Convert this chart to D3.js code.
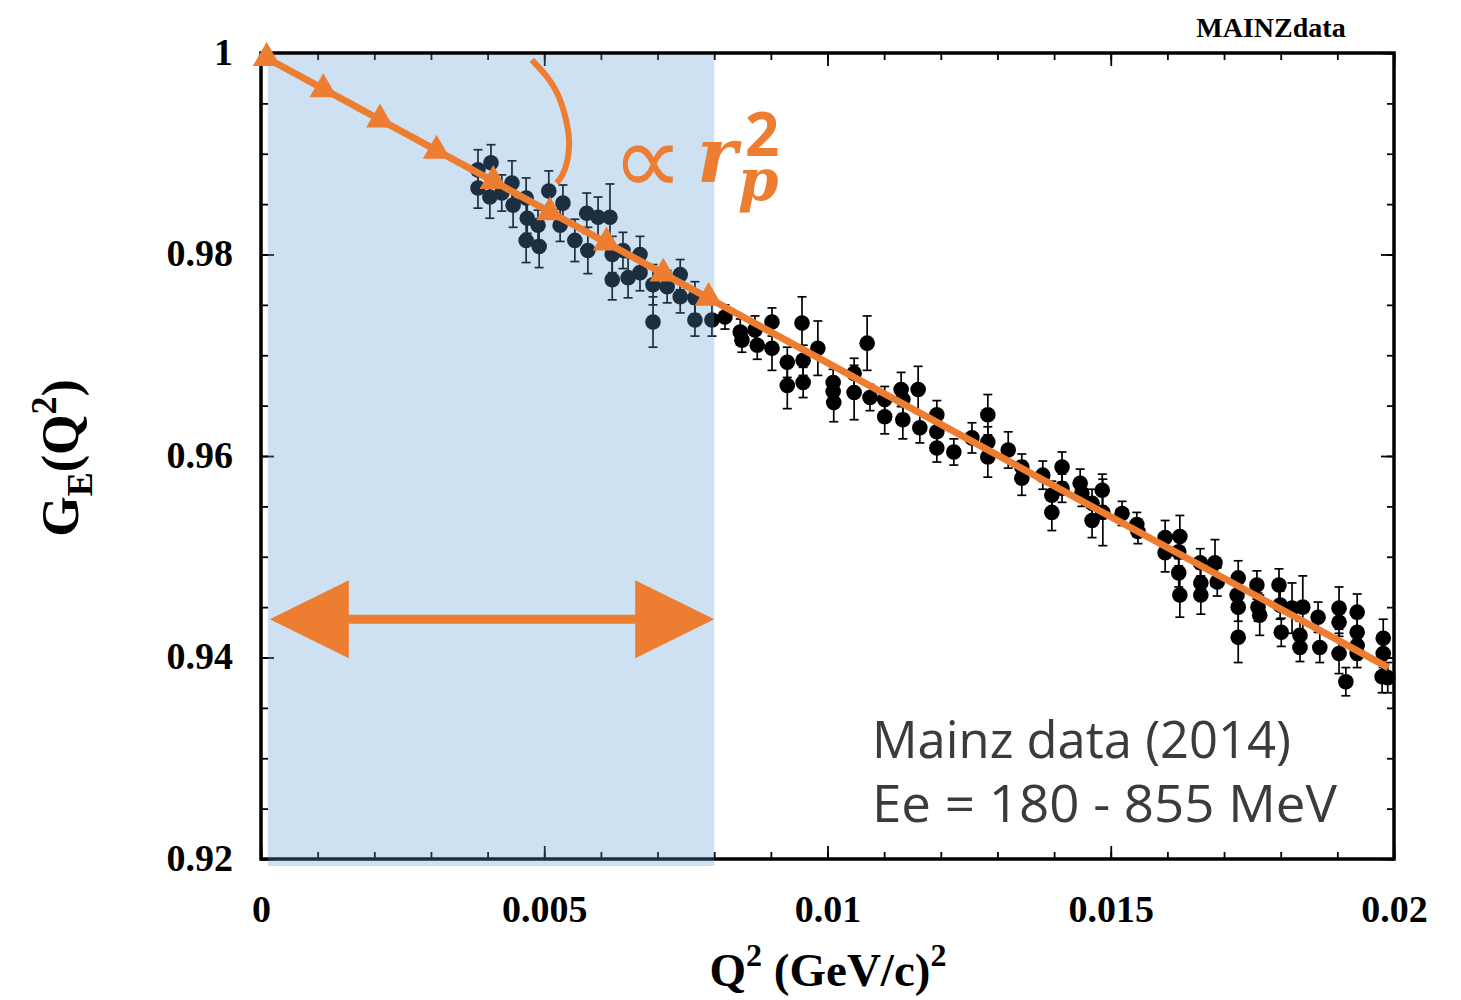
<!DOCTYPE html>
<html>
<head>
<meta charset="utf-8">
<script src="https://cdn.jsdelivr.net/npm/d3@7"></script>
<style>
  body { margin: 0; background: #fff; }
  svg { display: block; }
</style>
</head>
<body>
<svg id="chart" width="1461" height="1000"></svg>
<script>
// Mainz electron-proton scattering: electric form factor G_E vs Q^2 (GeV/c)^2
const q2 = [
  0.00383, 0.00383, 0.00406, 0.00404, 0.00425, 0.00443, 0.00445, 0.00468, 0.00470, 0.00468,
  0.00489, 0.00491, 0.00508, 0.00533, 0.00528, 0.00554, 0.00575, 0.00577, 0.00595, 0.00616,
  0.00620, 0.00620, 0.00639, 0.00648, 0.00669, 0.00669, 0.00692, 0.00692, 0.00717, 0.00740,
  0.00740, 0.00766, 0.00766, 0.00796, 0.00819, 0.00846, 0.00849, 0.00872, 0.00876, 0.00902,
  0.00902, 0.00929, 0.00929, 0.00955, 0.00957, 0.00957, 0.00983, 0.01010, 0.01010, 0.01011,
  0.01047, 0.01047, 0.01070, 0.01075, 0.01101, 0.01101, 0.01130, 0.01133, 0.01133, 0.01160,
  0.01163, 0.01193, 0.01193, 0.01193, 0.01223, 0.01255, 0.01283, 0.01283, 0.01283, 0.01319,
  0.01343, 0.01343, 0.01380, 0.01396, 0.01396, 0.01414, 0.01414, 0.01446, 0.01449, 0.01467,
  0.01467, 0.01485, 0.01486, 0.01520, 0.01546, 0.01548, 0.01596, 0.01596, 0.01622, 0.01620,
  0.01620, 0.01622, 0.01658, 0.01659, 0.01659, 0.01684, 0.01688, 0.01725, 0.01723, 0.01725,
  0.01725, 0.01758, 0.01760, 0.01763, 0.01797, 0.01799, 0.01801, 0.01820, 0.01839, 0.01834,
  0.01834, 0.01866, 0.01869, 0.01903, 0.01903, 0.01903, 0.01915, 0.01935, 0.01935, 0.01935,
  0.01935, 0.01981, 0.01981, 0.01979, 0.01989
];
const ge = [
  0.9884, 0.9866, 0.9891, 0.9857, 0.9861, 0.9871, 0.9849, 0.9856, 0.9836, 0.9814,
  0.9829, 0.9808, 0.9863, 0.9851, 0.9829, 0.9814, 0.9841, 0.9804, 0.9837, 0.9837,
  0.9800, 0.9775, 0.9804, 0.9777, 0.9800, 0.9782, 0.9770, 0.9733, 0.9768, 0.9780,
  0.9758, 0.9757, 0.9735, 0.9735, 0.9738, 0.9723, 0.9715, 0.9725, 0.9710, 0.9733,
  0.9707, 0.9693, 0.9670, 0.9732, 0.9695, 0.9673, 0.9707, 0.9673, 0.9664, 0.9653,
  0.9682, 0.9663, 0.9712, 0.9658, 0.9656, 0.9639, 0.9666, 0.9656, 0.9636, 0.9666,
  0.9628, 0.9641, 0.9624, 0.9608, 0.9604, 0.9618, 0.9641, 0.9614, 0.9599, 0.9606,
  0.9589, 0.9578, 0.9581, 0.9561, 0.9544, 0.9589, 0.9568, 0.9573, 0.9563, 0.9553,
  0.9536, 0.9566, 0.9544, 0.9543, 0.9532, 0.9525, 0.9519, 0.9504, 0.9520, 0.9505,
  0.9484, 0.9462, 0.9494, 0.9474, 0.9462, 0.9494, 0.9475, 0.9479, 0.9462, 0.9450,
  0.9420, 0.9472, 0.9450, 0.9442, 0.9472, 0.9452, 0.9425, 0.9449, 0.9450, 0.9422,
  0.9410, 0.9440, 0.9410, 0.9449, 0.9435, 0.9404, 0.9376, 0.9445, 0.9425, 0.9412,
  0.9404, 0.9419, 0.9404, 0.9381, 0.9380
];
const geErr = [
  0.0020, 0.0020, 0.0018, 0.0021, 0.0018, 0.0022, 0.0022, 0.0020, 0.0015, 0.0022,
  0.0015, 0.0021, 0.0020, 0.0018, 0.0016, 0.0021, 0.0020, 0.0023, 0.0020, 0.0033,
  0.0018, 0.0020, 0.0018, 0.0020, 0.0018, 0.0018, 0.0020, 0.0025, 0.0016, 0.0015,
  0.0016, 0.0016, 0.0016, 0.0016, 0.0012, 0.0013, 0.0012, 0.0014, 0.0014, 0.0014,
  0.0022, 0.0015, 0.0023, 0.0026, 0.0015, 0.0015, 0.0027, 0.0013, 0.0013, 0.0019,
  0.0015, 0.0027, 0.0027, 0.0013, 0.0013, 0.0017, 0.0017, 0.0014, 0.0019, 0.0023,
  0.0015, 0.0014, 0.0014, 0.0014, 0.0013, 0.0015, 0.0020, 0.0015, 0.0020, 0.0018,
  0.0013, 0.0017, 0.0014, 0.0014, 0.0018, 0.0015, 0.0014, 0.0014, 0.0013, 0.0014,
  0.0017, 0.0016, 0.0033, 0.0012, 0.0012, 0.0012, 0.0017, 0.0019, 0.0021, 0.0014,
  0.0014, 0.0022, 0.0014, 0.0014, 0.0019, 0.0023, 0.0014, 0.0017, 0.0014, 0.0014,
  0.0025, 0.0014, 0.0014, 0.0020, 0.0016, 0.0014, 0.0014, 0.0025, 0.0031, 0.0014,
  0.0014, 0.0015, 0.0015, 0.0021, 0.0014, 0.0020, 0.0014, 0.0018, 0.0014, 0.0014,
  0.0014, 0.0019, 0.0014, 0.0016, 0.0015
];

// Slope line (radius term) and its triangle markers
const fitQ2 = [0.0000, 0.0199];
const fitGE = [0.9998, 0.9390];
const markerQ2 = [0.0001, 0.0011, 0.0021, 0.0031, 0.0041, 0.0051, 0.0061, 0.0071, 0.0079];
const markerGE = [0.9995, 0.9964, 0.9934, 0.9903, 0.9873, 0.9842, 0.9812, 0.9781, 0.9757];

// Low-Q^2 band and its span arrow
const lowQ2Range = [0.00012, 0.008];
const arrowGE = 0.9438;

// Curved pointer from the text to the slope line
const pointerQ2 = [0.00478, 0.00509, 0.00530, 0.00541, 0.00544, 0.00541, 0.00532, 0.00522];
const pointerGE = [0.99931, 0.99732, 0.99504, 0.99266, 0.99107, 0.98938, 0.98789, 0.98710];

// Axes
const xMajorTicks = [0, 0.005, 0.01, 0.015, 0.02];
const xTickLabels = ["0", "0.005", "0.01", "0.015", "0.02"];
const yMajorTicks = [0.92, 0.94, 0.96, 0.98, 1];
const yTickLabels = ["0.92", "0.94", "0.96", "0.98", "1"];

const ORANGE = "#ED7D31";
const SERIF = "'Liberation Serif', 'Times New Roman', serif";

const svg = d3.select("#chart");
const x = d3.scaleLinear().domain([0, 0.02]).range([261, 1394]);
const y = d3.scaleLinear().domain([0.92, 1]).range([859, 53]);
const [x0, x1] = x.range();
const [y0, y1] = y.range();

function cleanAxis(g) {
  g.select(".domain").remove();
  g.selectAll("line").attr("stroke", "#000").attr("stroke-width", 1.8);
}

// Minor and major ticks on all four sides, pointing inward
const xMinor = x.ticks(20), yMinor = y.ticks(16);
svg.append("g").attr("transform", `translate(0,${y0})`)
  .call(d3.axisBottom(x).tickValues(xMinor).tickSize(-7).tickFormat("")).call(cleanAxis);
svg.append("g").attr("transform", `translate(0,${y1})`)
  .call(d3.axisTop(x).tickValues(xMinor).tickSize(-7).tickFormat("")).call(cleanAxis);
svg.append("g").attr("transform", `translate(0,${y1})`)
  .call(d3.axisTop(x).tickValues(xMajorTicks).tickSize(-13).tickFormat("")).call(cleanAxis);
svg.append("g").attr("transform", `translate(${x0},0)`)
  .call(d3.axisLeft(y).tickValues(yMinor).tickSize(-7).tickFormat("")).call(cleanAxis);
svg.append("g").attr("transform", `translate(${x1},0)`)
  .call(d3.axisRight(y).tickValues(yMinor).tickSize(-7).tickFormat("")).call(cleanAxis);
svg.append("g").attr("transform", `translate(${x1},0)`)
  .call(d3.axisRight(y).tickValues(yMajorTicks).tickSize(-13).tickFormat("")).call(cleanAxis);

const xAxis = svg.append("g").attr("transform", `translate(0,${y0})`)
  .call(d3.axisBottom(x).tickValues(xMajorTicks).tickSize(-13)
    .tickFormat((d, i) => xTickLabels[i]))
  .call(cleanAxis);
xAxis.selectAll("text")
  .attr("y", 63).attr("dy", 0)
  .attr("font-family", SERIF).attr("font-weight", "bold")
  .attr("font-size", 38).attr("fill", "#000");

const yAxis = svg.append("g").attr("transform", `translate(${x0},0)`)
  .call(d3.axisLeft(y).tickValues(yMajorTicks).tickSize(-13)
    .tickFormat((d, i) => yTickLabels[i]))
  .call(cleanAxis);
yAxis.selectAll("text")
  .attr("x", -28).attr("dy", "0.3em")
  .attr("font-family", SERIF).attr("font-weight", "bold")
  .attr("font-size", 38).attr("fill", "#000");

// Plot frame
svg.append("rect")
  .attr("x", x0).attr("y", y1)
  .attr("width", x1 - x0).attr("height", y0 - y1)
  .attr("fill", "none").attr("stroke", "#000").attr("stroke-width", 3.5);

// Data points with error bars
const pts = q2.map((q, i) => ({ q, g: ge[i], e: geErr[i] }));
const pg = svg.append("g");
const bars = pg.selectAll("g.pt").data(pts).join("g").attr("class", "pt");
bars.append("line")
  .attr("x1", d => x(d.q)).attr("x2", d => x(d.q))
  .attr("y1", d => y(d.g - d.e)).attr("y2", d => y(d.g + d.e))
  .attr("stroke", "#000").attr("stroke-width", 1.7);
bars.append("line")
  .attr("x1", d => x(d.q) - 4.5).attr("x2", d => x(d.q) + 4.5)
  .attr("y1", d => y(d.g + d.e)).attr("y2", d => y(d.g + d.e))
  .attr("stroke", "#000").attr("stroke-width", 1.7);
bars.append("line")
  .attr("x1", d => x(d.q) - 4.5).attr("x2", d => x(d.q) + 4.5)
  .attr("y1", d => y(d.g - d.e)).attr("y2", d => y(d.g - d.e))
  .attr("stroke", "#000").attr("stroke-width", 1.7);
bars.append("circle")
  .attr("cx", d => x(d.q)).attr("cy", d => y(d.g)).attr("r", 7.8)
  .attr("fill", "#000");

// Translucent low-Q^2 band
svg.append("rect")
  .attr("x", x(lowQ2Range[0])).attr("y", y1 + 2)
  .attr("width", x(lowQ2Range[1]) - x(lowQ2Range[0]))
  .attr("height", (y0 + 7) - (y1 + 2))
  .attr("fill", "#5B9BD5").attr("opacity", 0.3);

// Slope line with triangle markers
svg.append("path")
  .datum(fitQ2.map((q, i) => [q, fitGE[i]]))
  .attr("d", d3.line().x(d => x(d[0])).y(d => y(d[1])))
  .attr("fill", "none").attr("stroke", ORANGE).attr("stroke-width", 7);
svg.selectAll("path.tri")
  .data(markerQ2.map((q, i) => [q, markerGE[i]]))
  .join("path").attr("class", "tri")
  .attr("d", d3.symbol(d3.symbolTriangle).size(330))
  .attr("transform", d => `translate(${x(d[0])},${y(d[1])})`)
  .attr("fill", ORANGE);

// Curved pointer
svg.append("path")
  .datum(pointerQ2.map((q, i) => [q, pointerGE[i]]))
  .attr("d", d3.line().x(d => x(d[0])).y(d => y(d[1])).curve(d3.curveNatural))
  .attr("fill", "none").attr("stroke", ORANGE).attr("stroke-width", 6);

// Double-headed span arrow across the band
{
  const ay = y(arrowGE);
  const ax0 = x(lowQ2Range[0]) + 2, ax1 = x(lowQ2Range[1]);
  const head = 79, hh = 39, sh = 4.5;
  const p = d3.path();
  p.moveTo(ax0, ay);
  p.lineTo(ax0 + head, ay - hh);
  p.lineTo(ax0 + head, ay - sh);
  p.lineTo(ax1 - head, ay - sh);
  p.lineTo(ax1 - head, ay - hh);
  p.lineTo(ax1, ay);
  p.lineTo(ax1 - head, ay + hh);
  p.lineTo(ax1 - head, ay + sh);
  p.lineTo(ax0 + head, ay + sh);
  p.lineTo(ax0 + head, ay + hh);
  p.closePath();
  svg.append("path").attr("d", p.toString()).attr("fill", ORANGE);
}

// "∝ r_p^2" annotation, set as one formula line
const ann = svg.append("text").attr("fill", ORANGE).attr("y", 194);
ann.append("tspan").attr("x", 612)
  .attr("font-family", "'DejaVu Sans', sans-serif").attr("font-size", 100)
  .text("∝");
ann.append("tspan").attr("x", 697).attr("y", 182)
  .attr("font-family", "'DejaVu Serif', serif").attr("font-style", "italic")
  .attr("font-weight", "bold").attr("font-size", 76)
  .text("r");
ann.append("tspan").attr("x", 745).attr("y", 156)
  .attr("font-family", "'Open Sans', sans-serif").attr("font-weight", "bold")
  .attr("font-size", 60)
  .text("2");
ann.append("tspan").attr("x", 738).attr("y", 200)
  .attr("font-family", "'DejaVu Serif', serif").attr("font-style", "italic")
  .attr("font-weight", "bold").attr("font-size", 58)
  .text("p");

// Dataset note
const note = svg.append("g")
  .attr("font-family", "'Open Sans', 'Noto Sans', sans-serif")
  .attr("font-size", 52).attr("fill", "#3b3b3b");
note.append("text").attr("x", 872).attr("y", 758)
  .attr("textLength", 419).attr("lengthAdjust", "spacingAndGlyphs")
  .text("Mainz data (2014)");
note.append("text").attr("x", 872).attr("y", 822)
  .attr("textLength", 465).attr("lengthAdjust", "spacingAndGlyphs")
  .text("Ee = 180 - 855 MeV");

// Header tag
svg.append("text").attr("x", 1271).attr("y", 37)
  .attr("text-anchor", "middle")
  .attr("font-family", SERIF).attr("font-weight", "bold").attr("font-size", 28)
  .text("MAINZdata");

// Axis titles
const xt = svg.append("text").attr("x", 828).attr("y", 986)
  .attr("text-anchor", "middle")
  .attr("font-family", SERIF).attr("font-weight", "bold").attr("font-size", 47);
xt.append("tspan").text("Q");
xt.append("tspan").attr("font-size", 32).attr("dy", -20).text("2");
xt.append("tspan").attr("dy", 20).text(" (GeV/c)");
xt.append("tspan").attr("font-size", 32).attr("dy", -20).text("2");

const yt = svg.append("text")
  .attr("transform", "translate(78,458) rotate(-90)")
  .attr("text-anchor", "middle")
  .attr("font-family", SERIF).attr("font-weight", "bold").attr("font-size", 52);
yt.append("tspan").text("G");
yt.append("tspan").attr("font-size", 36).attr("dy", 14).text("E");
yt.append("tspan").attr("dy", -14).text("(Q");
yt.append("tspan").attr("font-size", 36).attr("dy", -22).text("2");
yt.append("tspan").attr("dy", 22).text(")");
</script>
</body>
</html>
